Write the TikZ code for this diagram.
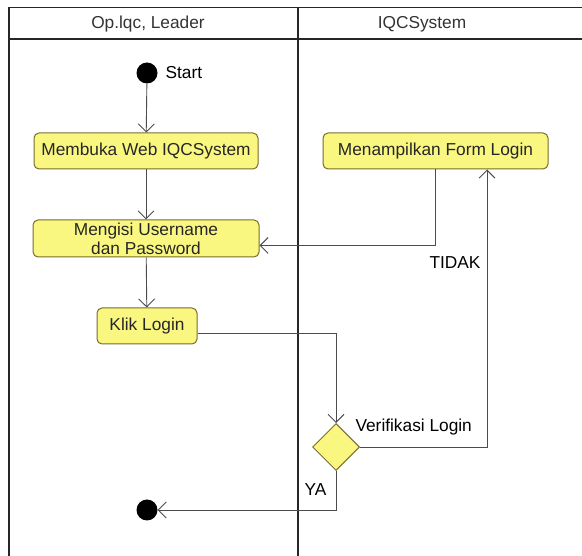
\documentclass[tikz,border=0pt]{standalone}
\usepackage{fontspec}
\setmainfont{Liberation Sans}
\usetikzlibrary{positioning}
\usetikzlibrary{arrows.meta,shapes.geometric}

\definecolor{actfill}{RGB}{250,247,128}
\definecolor{actline}{RGB}{120,108,45}

\begin{document}
\begin{tikzpicture}[x=1pt,y=-1pt,
  font=\fontsize{17.3}{20}\selectfont,
  act/.style={draw=actline,fill=actfill,rounded corners=5pt,line width=1pt,
    minimum height=36pt,inner sep=2pt,align=center,text=black!85},
  dot/.style={circle,fill=black,minimum size=21pt,inner sep=0pt},
  flow/.style={draw=black!70,line width=0.9pt,-{Straight Barb[length=8pt,width=16pt]}},
  lane/.style={draw=black!85,line width=1.4pt}]
  \useasboundingbox (0,0) rectangle (582,556);
  % swimlanes
  \draw[lane] (9,556) -- (9,7.5) -- (582,7.5);
  \draw[lane] (9,39) -- (582,39);
  \draw[lane] (298,7.5) -- (298,556);
  \node (H1) at (148,24) {\textcolor{black!80}{Op.lqc, Leader}};
  \node (H2) at (422,24) {\textcolor{black!80}{IQCSystem}};
	  \node (S) [dot] at (147,73) {};
	  \node (LS) [anchor=west] at (162,73) {Start};
	  \node (M1) [act,minimum width=224pt] at (146,151) {Membuka Web IQCSystem};
	  \node (M2) [act,minimum width=226pt,minimum height=37pt,font=\fontsize{17.3}{19}\selectfont] at (146,238.5) {Mengisi Username\\dan Password};
	  \node (K) [act,minimum width=100pt] at (147,326) {Klik Login};
	  \node (F) [act,minimum width=225pt] at (435.5,151) {Menampilkan Form Login};
	  \node (V) [diamond,draw=actline,fill=actfill,line width=1pt,aspect=1,minimum size=47pt,inner sep=0pt] at (336,447) {};
	  \node (LV) [anchor=west] at (352,427) {Verifikasi Login};
	  \node (E) [dot] at (147,510) {};
	  \node (LT) [anchor=east] at (484,263) {TIDAK};
	  \node (LY) [anchor=east] at (330,490) {YA};
	  \coordinate (T) at (487,0);
  % alur
  \draw[flow] (S) -- (M1);
  \draw[flow] (M1) -- (M2);
  \draw[flow] (M2) -- (K);
  \draw[flow] (F.south) |- ([yshift=-7pt]M2.east);
  \draw[flow] ([yshift=-7pt]K.east) -| (V.north);
  \draw[flow] (V.east) -| (F.south -| T);
  \draw[flow] (V.south) |- (E);
\end{tikzpicture}
\end{document}
